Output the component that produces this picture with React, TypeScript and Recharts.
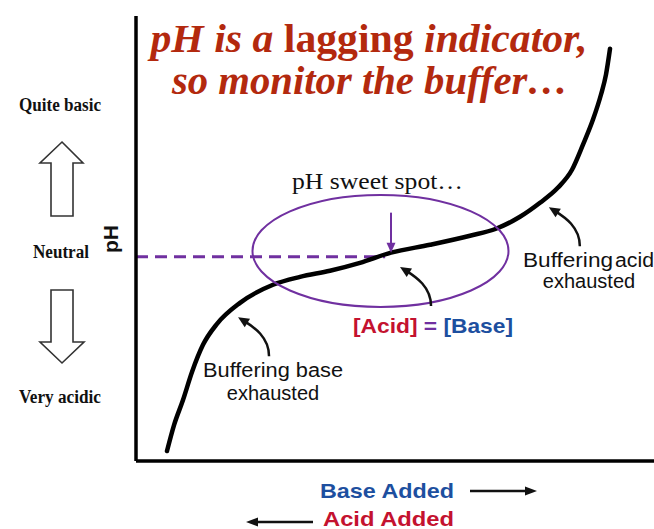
import { LineChart, Line, XAxis, YAxis, ReferenceLine, ReferenceDot } from 'recharts';

// titration-style curve: base added (0-100) vs pH
const baseAdded = [5.98, 7.34, 9.07, 10.81, 12.93, 15.64, 20.08, 26.45, 31.66, 37.45, 43.24, 49.23, 56.76, 64.48, 69.5, 74.13, 77.99, 81.47, 84.17, 86.29, 88.22, 89.77, 90.73, 91.51];
const phValues = [0.34, 1.23, 2.09, 3.05, 3.98, 4.7, 5.42, 6.04, 6.31, 6.52, 6.79, 7.14, 7.41, 7.72, 7.96, 8.37, 8.85, 9.37, 9.98, 10.84, 11.7, 12.56, 13.24, 14.13];

const NEUTRAL_PH = 7;
const NEUTRAL_END = 48.1;
const sweetSpot = { x: 47.2, ph: 7.2 };
const halfPoint = { x: 49.23, ph: 7.14 };
// where the curved call-out arrows touch the curve
const calloutTips = [
  { x: 19.7, ph: 4.93 },  // buffering base exhausted
  { x: 50.97, ph: 6.65 }, // [Acid] = [Base]
  { x: 79.7, ph: 8.7 },   // buffering acid exhausted
];

const data = baseAdded.map((x, i) => ({ x, ph: phValues[i] }));

const PURPLE = '#7030a0';
const TITLE_RED = '#b3290e';
const RED = '#c4122f';
const BLUE = '#1d4f9f';
const SERIF = "'Liberation Serif', 'Times New Roman', serif";
const SANS = "'Liberation Sans', Arial, sans-serif";

function headPoints(tx: number, ty: number, fx: number, fy: number, len = 11, w = 10) {
  const dx = tx - fx, dy = ty - fy;
  const d = Math.hypot(dx, dy) || 1;
  const ux = dx / d, uy = dy / d;
  const bx = tx - ux * len, by = ty - uy * len;
  const px = -uy * w / 2, py = ux * w / 2;
  return `${tx},${ty} ${bx + px},${by + py} ${bx - px},${by - py}`;
}

const CurvedArrow = (props: any) => {
  const { cx, cy } = props;
  // tail below-right, bending up and left into the curve
  const c2x = cx + 16, c2y = cy + 10;
  const d = Math.hypot(16, 10);
  const ex = cx + (16 / d) * 7, ey = cy + (10 / d) * 7;
  return (
    <g>
      <path
        d={`M${cx + 31},${cy + 39} C${cx + 31},${cy + 20} ${c2x},${c2y} ${ex},${ey}`}
        fill="none" stroke="#111" strokeWidth={2.5}
      />
      <polygon points={headPoints(cx, cy, c2x, c2y)} fill="#111" />
    </g>
  );
};

const SweetSpotRing = (props: any) => (
  <ellipse cx={props.cx} cy={props.cy} rx={128} ry={56} fill="none" stroke={PURPLE} strokeWidth={2} />
);

const DownPointer = (props: any) => {
  const { cx, cy } = props;
  return (
    <g>
      <line x1={cx} y1={cy - 40} x2={cx} y2={cy - 6} stroke={PURPLE} strokeWidth={2} />
      <polygon points={headPoints(cx, cy, cx, cy - 20, 10, 9)} fill={PURPLE} />
    </g>
  );
};

function Overlay() {
  return (
    <svg width={654} height={529} style={{ position: 'absolute', left: 0, top: 0, pointerEvents: 'none' }}>
      {/* title */}
      <text x={369} y={52} textAnchor="middle" fontFamily={SERIF} fontSize={41} fontWeight="bold"
        fill={TITLE_RED} textLength={437} lengthAdjust="spacingAndGlyphs">
        <tspan fontStyle="italic">{'pH is a '}</tspan>
        <tspan>lagging</tspan>
        <tspan fontStyle="italic">{' indicator,'}</tspan>
      </text>
      <text x={370} y={94} textAnchor="middle" fontFamily={SERIF} fontSize={41} fontWeight="bold"
        fontStyle="italic" fill={TITLE_RED} textLength={396} lengthAdjust="spacingAndGlyphs">
        so monitor the buffer…
      </text>

      {/* left scale */}
      <text x={19} y={111} fontFamily={SERIF} fontSize={18} fontWeight="bold" fill="#111"
        textLength={82} lengthAdjust="spacingAndGlyphs">Quite basic</text>
      <text x={33} y={258} fontFamily={SERIF} fontSize={18} fontWeight="bold" fill="#111"
        textLength={56} lengthAdjust="spacingAndGlyphs">Neutral</text>
      <text x={19} y={403} fontFamily={SERIF} fontSize={18} fontWeight="bold" fill="#111"
        textLength={82} lengthAdjust="spacingAndGlyphs">Very acidic</text>
      <polygon points="62,142 83,163 73,163 73,216 51,216 51,163 40,163"
        fill="#fff" stroke="#333" strokeWidth={1.6} />
      <polygon points="51,290 73,290 73,342 84,342 62,363 40,342 51,342"
        fill="#fff" stroke="#333" strokeWidth={1.6} />
      <text transform="translate(118,239) rotate(-90)" textAnchor="middle" fontFamily={SANS}
        fontSize={21} fontWeight="bold" fill="#111">pH</text>

      {/* annotations */}
      <text x={292} y={189} fontFamily={SERIF} fontSize={23} fill="#111"
        textLength={171} lengthAdjust="spacingAndGlyphs">pH sweet spot…</text>
      <text x={353} y={333} fontFamily={SANS} fontSize={21} fontWeight="bold"
        textLength={160} lengthAdjust="spacingAndGlyphs">
        <tspan fill={RED}>[Acid]</tspan>
        <tspan fill={PURPLE}>{' = '}</tspan>
        <tspan fill={BLUE}>[Base]</tspan>
      </text>
      <text x={203} y={377} fontFamily={SANS} fontSize={20} fill="#111"
        textLength={140} lengthAdjust="spacingAndGlyphs">Buffering base</text>
      <text x={273} y={400} textAnchor="middle" fontFamily={SANS} fontSize={20} fill="#111">exhausted</text>
      <text x={523} y={267} fontFamily={SANS} fontSize={20} fill="#111"
        textLength={90} lengthAdjust="spacingAndGlyphs">Buffering</text>
      <text x={615} y={267} fontFamily={SANS} fontSize={20} fill="#111"
        textLength={39} lengthAdjust="spacingAndGlyphs">acid</text>
      <text x={589} y={288} textAnchor="middle" fontFamily={SANS} fontSize={20} fill="#111">exhausted</text>

      {/* x direction labels */}
      <text x={320} y={498} fontFamily={SANS} fontSize={21} fontWeight="bold" fill={BLUE}
        textLength={134} lengthAdjust="spacingAndGlyphs">Base Added</text>
      <line x1={470} y1={491} x2={528} y2={491} stroke="#111" strokeWidth={2.5} />
      <polygon points={headPoints(537, 491, 470, 491, 12, 9)} fill="#111" />
      <text x={323} y={526} fontFamily={SANS} fontSize={20} fontWeight="bold" fill={RED}
        textLength={131} lengthAdjust="spacingAndGlyphs">Acid Added</text>
      <line x1={255} y1={522} x2={313} y2={522} stroke="#111" strokeWidth={2.5} />
      <polygon points={headPoints(246, 522, 313, 522, 12, 9)} fill="#111" />
    </svg>
  );
}

export default function App() {
  return (
    <div style={{ position: 'absolute', left: 0, top: 0, width: 654, height: 529, background: '#fff' }}>
      <LineChart width={654} height={529} data={data} margin={{ top: 16, right: 0, bottom: 67, left: 135 }}>
        <XAxis dataKey="x" type="number" domain={[0, 100]} height={1} tick={false} tickLine={false}
          axisLine={{ stroke: '#000', strokeWidth: 3.5 }} />
        <YAxis type="number" domain={[0, 15.25]} width={1} tick={false} tickLine={false}
          axisLine={{ stroke: '#000', strokeWidth: 3.5 }} />
        <ReferenceDot x={sweetSpot.x} y={sweetSpot.ph} r={0} shape={SweetSpotRing} />
        <ReferenceLine
          segment={[{ x: 0, y: NEUTRAL_PH }, { x: NEUTRAL_END, y: NEUTRAL_PH }]}
          stroke={PURPLE} strokeWidth={3} strokeDasharray="12 7"
        />
        <Line type="monotone" dataKey="ph" stroke="#000" strokeWidth={4.5} strokeLinecap="round"
          dot={false} activeDot={false} isAnimationActive={false} />
        <ReferenceDot x={halfPoint.x} y={halfPoint.ph} r={0} shape={DownPointer} />
        {calloutTips.map((t, i) => (
          <ReferenceDot key={i} x={t.x} y={t.ph} r={0} shape={CurvedArrow} />
        ))}
      </LineChart>
      <Overlay />
    </div>
  );
}
